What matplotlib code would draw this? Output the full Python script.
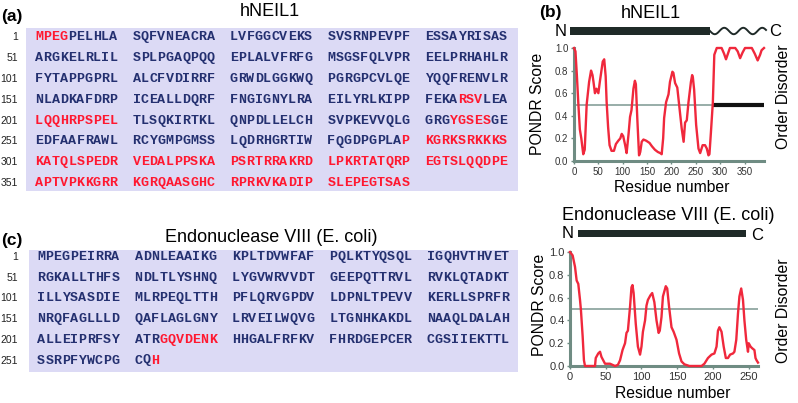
import numpy as np
import matplotlib.pyplot as plt
from matplotlib.patches import Rectangle

plt.rcParams["font.family"] = ["Liberation Sans", "DejaVu Sans"]

W, H = 798, 403

# sequences (one string each, 50 residues per row)
neil1_seq = ("MPEGPELHLASQFVNEACRALVFGGCVEKSSVSRNPEVPFESSAYRISAS"
             "ARGKELRLILSPLPGAQPQQEPLALVFRFGMSGSFQLVPREELPRHAHLR"
             "FYTAPPGPRLALCFVDIRRFGRWDLGGKWQPGRGPCVLQEYQQFRENVLR"
             "NLADKAFDRPICEALLDQRFFNGIGNYLRAEILYRLKIPPFEKARSVLEA"
             "LQQHRPSPELTLSQKIRTKLQNPDLLELCHSVPKEVVQLGGRGYGSESGE"
             "EDFAAFRAWLRCYGMPGMSSLQDRHGRTIWFQGDPGPLAPKGRKSRKKKS"
             "KATQLSPEDRVEDALPPSKAPSRTRRAKRDLPKRTATQRPEGTSLQQDPE"
             "APTVPKKGRRKGRQAASGHCRPRKVKADIPSLEPEGTSAS")
neil1_red = [(1, 4), (195, 197), (201, 210), (244, 248), (290, 390)]

endo_seq = ("MPEGPEIRRAADNLEAAIKGKPLTDVWFAFPQLKTYQSQLIGQHVTHVET"
            "RGKALLTHFSNDLTLYSHNQLYGVWRVVDTGEEPQTTRVLRVKLQTADKT"
            "ILLYSASDIEMLRPEQLTTHPFLQRVGPDVLDPNLTPEVVKERLLSPRFR"
            "NRQFAGLLLDQAFLAGLGNYLRVEILWQVGLTGNHKAKDLNAAQLDALAH"
            "ALLEIPRFSYATRGQVDENKHHGALFRFKVFHRDGEPCERCGSIIEKTTL"
            "SSRPFYWCPGCQH")
endo_red = [(214, 220), (263, 263)]

# PONDR scores
neil1_res = [0, 3, 6, 9, 12, 15, 19, 22, 26, 31, 35, 38, 40, 43, 46, 50, 53, 59, 62, 65,
             67, 70, 73, 77, 82, 86, 91, 95, 98, 101, 105, 108, 112, 115, 118, 122, 125,
             127, 130, 133.5, 136, 139, 142.5, 148, 155, 160, 166, 172, 177, 180, 183, 185,
             189, 194, 197, 202, 204, 207.5, 212, 216, 221, 225, 228, 231.5, 235, 240,
             242.5, 244, 246.6, 250.7, 255.5, 259, 264, 269, 272.6, 276, 278, 281, 285,
             288, 293, 297, 303, 308, 312, 316, 320, 326, 331, 336, 341, 346, 351, 358,
             365, 371, 377, 382, 385, 390]
neil1_score = [1.0, 0.97, 0.75, 0.5, 0.28, 0.2, 0.06, 0.1, 0.5, 0.7, 0.8, 0.76, 0.7, 0.6,
               0.64, 0.6, 0.7, 0.88, 0.9, 0.75, 0.52, 0.3, 0.14, 0.09, 0.09, 0.15, 0.18,
               0.2, 0.24, 0.22, 0.14, 0.07, 0.24, 0.39, 0.45, 0.64, 0.71, 0.68, 0.37, 0.05,
               0.08, 0.17, 0.19, 0.18, 0.16, 0.13, 0.1, 0.08, 0.07, 0.06, 0.2, 0.38, 0.52,
               0.59, 0.7, 0.79, 0.78, 0.69, 0.65, 0.49, 0.29, 0.17, 0.34, 0.36, 0.52, 0.7,
               0.76, 0.74, 0.63, 0.32, 0.11, 0.07, 0.14, 0.14, 0.11, 0.05, 0.06, 0.25, 0.52,
               0.94, 1.0, 1.0, 1.0, 0.95, 0.9, 0.95, 1.0, 1.0, 1.0, 0.97, 0.91, 0.96, 1.0,
               1.0, 1.0, 0.95, 0.89, 0.94, 0.98, 1.0]

endo_res = [0, 3.7, 7, 9.3, 11.6, 14, 15.3, 17.7, 19.5, 21, 35, 36, 39.5, 42, 44, 49, 56,
            63, 67, 70, 73.5, 77, 79, 81, 84, 86, 87.4, 89, 92, 95, 98, 100, 102, 105, 107,
            109, 112.5, 115, 118, 121, 124, 125.6, 128, 130, 134, 136, 138.6, 142, 145, 149,
            152.6, 156, 160, 167, 184, 188, 193, 198, 202, 205, 207, 209, 212, 215, 218, 221,
            224, 228, 230, 232.6, 235, 237, 239.5, 242, 244, 246.5, 249, 250, 252.6, 255,
            258, 259.5, 261, 263]
endo_score = [1.0, 0.97, 0.87, 0.75, 0.72, 0.58, 0.49, 0.26, 0.05, 0.0, 0.0, 0.07, 0.11,
              0.125, 0.08, 0.02, 0.02, 0.0, 0.01, 0.05, 0.14, 0.2, 0.29, 0.31, 0.52, 0.69,
              0.71, 0.64, 0.37, 0.17, 0.1, 0.17, 0.3, 0.4, 0.53, 0.58, 0.62, 0.64, 0.56, 0.4,
              0.29, 0.31, 0.43, 0.61, 0.7, 0.68, 0.52, 0.34, 0.3, 0.23, 0.11, 0.04, 0.015,
              0.0, 0.0, 0.02, 0.07, 0.1, 0.11, 0.17, 0.31, 0.34, 0.3, 0.17, 0.07, 0.07, 0.1,
              0.11, 0.125, 0.23, 0.46, 0.61, 0.68, 0.58, 0.4, 0.23, 0.125, 0.2, 0.17, 0.155,
              0.14, 0.07, 0.05, 0.03]

neil1_xticks = [0, 50, 100, 150, 200, 250, 300, 350]
endo_xticks = [0, 50, 100, 150, 200, 250]
yticks = [0.0, 0.2, 0.4, 0.6, 0.8, 1.0]
neil1_disorder = (285, 390)

NAVY = "#243070"
RED = "#ff1830"
LINE = "#f0283c"
AXC = "#6f8c83"
BOX = "#dcdaf5"

fig = plt.figure(figsize=(W / 100, H / 100), dpi=100)
cv = fig.add_axes([0, 0, 1, 1])
cv.set_xlim(0, W)
cv.set_ylim(H, 0)
cv.axis("off")


def is_red(n, spans):
    return any(a <= n <= b for a, b in spans)


def draw_seq(seq, spans, x0, y0, dy):
    for i, aa in enumerate(seq):
        row, pos = divmod(i, 50)
        grp, k = divmod(pos, 10)
        x = x0 + grp * 97.4 + (k + 0.5) * 8.25
        y = y0 + row * dy
        c = RED if is_red(i + 1, spans) else NAVY
        cv.text(x, y, aa, ha="center", va="center", fontsize=9.6, fontweight="bold",
                family="Liberation Mono", color=c)
    for row in range((len(seq) + 49) // 50):
        cv.text(18, y0 + row * dy, str(row * 50 + 1), ha="right", va="center",
                fontsize=7.5, color="#222222")


# (a) hNEIL1 sequence
cv.text(12, 16, "(a)", ha="center", va="center", fontsize=12.5, fontweight="bold")
cv.text(270, 12, "hNEIL1", ha="center", va="center", fontsize=13)
cv.add_patch(Rectangle((26, 28), 492, 163, color=BOX, lw=0))
draw_seq(neil1_seq, neil1_red, 35, 37, 20.9)

# (c) Endonuclease VIII sequence
cv.text(12, 240, "(c)", ha="center", va="center", fontsize=12.5, fontweight="bold")
cv.text(271, 238, "Endonuclease VIII (E. coli)", ha="center", va="center", fontsize=13)
cv.add_patch(Rectangle((29, 250), 489, 122, color=BOX, lw=0))
draw_seq(endo_seq, endo_red, 37, 257, 20.7)


def pondr(rect, res, score, xmax, xticks, fs):
    l, t, r, b = rect
    ax = fig.add_axes([l / W, 1 - b / H, (r - l) / W, (b - t) / H])
    ax.patch.set_alpha(0)
    ax.plot(res, score, color=LINE, lw=1.7, clip_on=False, zorder=3)
    ax.axhline(0.5, color="#86a099", lw=1.2, zorder=2)
    ax.set_xlim(0, xmax)
    ax.set_ylim(0, 1)
    for s in ["top", "right"]:
        ax.spines[s].set_visible(False)
    for s in ["left", "bottom"]:
        ax.spines[s].set_color(AXC)
        ax.spines[s].set_linewidth(2.2)
    ax.set_xticks(xticks)
    ax.set_yticks(yticks)
    ax.set_yticklabels(["%.1f" % v for v in yticks])
    ax.tick_params(length=2, width=1, color=AXC, labelsize=fs, labelcolor="#333333", pad=2)
    return ax


# (b) hNEIL1 PONDR
axb = pondr((574, 48, 764, 161), neil1_res, neil1_score, 390, neil1_xticks, 7)
axb.plot(neil1_disorder, [0.5, 0.5], color="#111111", lw=3, solid_capstyle="butt", zorder=2)
cv.text(550, 12, "(b)", ha="center", va="center", fontsize=12.5, fontweight="bold")
cv.text(651, 13, "hNEIL1", ha="center", va="center", fontsize=13)
cv.text(561, 31, "N", ha="center", va="center", fontsize=12)
cv.add_patch(Rectangle((570, 27), 140, 7.5, color="#1f2a28", lw=0))
wx = np.linspace(710, 766, 120)
cv.plot(wx, 31 + 3.2 * np.sin(2 * np.pi * (wx - 710) / 19), color="#1f2a28", lw=1.4)
cv.text(775, 31, "C", ha="center", va="center", fontsize=12)
cv.text(538, 104, "PONDR Score", ha="center", va="center", rotation=90, fontsize=11.3)
cv.text(672, 187, "Residue number", ha="center", va="center", fontsize=11.3)
cv.text(783, 97, "Order Disorder", ha="center", va="center", rotation=90, fontsize=11.3)

# (d) Endonuclease VIII PONDR
axd = pondr((570, 252, 758, 366), endo_res, endo_score, 263, endo_xticks, 8)
cv.text(668, 215, "Endonuclease VIII (E. coli)", ha="center", va="center", fontsize=13)
cv.text(568, 234, "N", ha="center", va="center", fontsize=12)
cv.add_patch(Rectangle((578, 229.5), 168, 7.5, color="#1f2a28", lw=0))
cv.text(757, 235, "C", ha="center", va="center", fontsize=12)
cv.text(540, 305, "PONDR Score", ha="center", va="center", rotation=90, fontsize=11.3)
cv.text(673, 393, "Residue number", ha="center", va="center", fontsize=11.3)
cv.text(783, 311, "Order Disorder", ha="center", va="center", rotation=90, fontsize=11.3)

plt.savefig("out.png", dpi=100)
